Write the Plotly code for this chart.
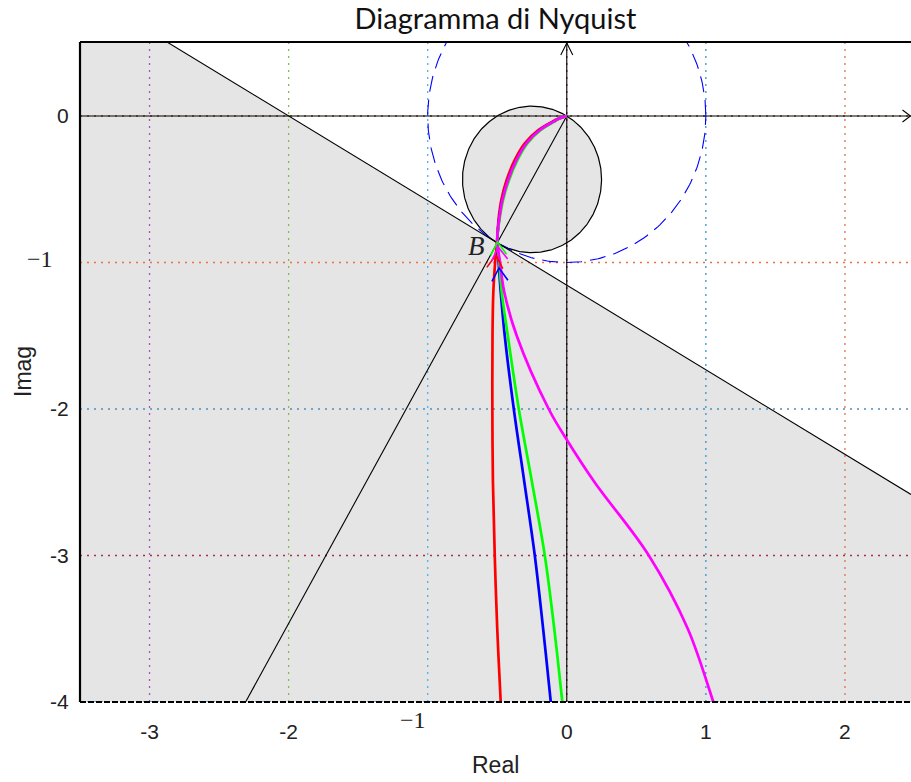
import numpy as np
import plotly.graph_objects as go

# ---------------- data ----------------
W, H = 911, 782
ML, MR, MT, MB = 80, 0, 42, 80
X_RANGE = [-3.5, 2.475]
Y_RANGE = [-4.0, 0.505]

x_ticks = [-3, -2, -1, 0, 1, 2]
x_tick_text = ["-3", "-2", "", "0", "1", "2"]
y_ticks = [0, -1, -2, -3, -4]
y_tick_text = ["0", "", "-2", "-3", "-4"]
x_grid_colors = ["#a455b8", "#86b84e", "#45b4e4", "#8a2b4a", "#3592d0", "#e07048"]
y_grid_colors = ["#8a5a2a", "#ee7040", "#4c8fc0", "#a8304e", "#3a8fd0"]

# crossing point B on the unit circle (phase margin 60 deg)
B = (-0.5, -0.866)

# Nyquist curves (high freq -> origin, low freq -> -j inf)
upper_x = [0.0, -0.05, -0.096, -0.194, -0.29, -0.362, -0.422, -0.463, -0.487, -0.50]
upper_y = [0.0, -0.016, -0.039, -0.096, -0.186, -0.30, -0.437, -0.573, -0.71, -0.846]

red_lower_x = [-0.515, -0.528, -0.534, -0.535, -0.531, -0.518, -0.50, -0.475, -0.469]
red_lower_y = [-1.0, -1.2, -1.5, -2.0, -2.5, -3.0, -3.5, -4.0, -4.1]

blue_lower_x = [-0.49, -0.475, -0.446, -0.381, -0.305, -0.23, -0.17, -0.115, -0.104]
blue_lower_y = [-1.0, -1.2, -1.5, -2.0, -2.5, -3.0, -3.5, -4.0, -4.1]

green_lower_x = [-0.485, -0.468, -0.424, -0.345, -0.25, -0.158, -0.09, -0.032, -0.021]
green_lower_y = [-1.0, -1.2, -1.5, -2.0, -2.5, -3.0, -3.5, -4.0, -4.1]

magenta_lower_x = [-0.48, -0.45, -0.36, -0.13, 0.0, 0.2, 0.59, 0.87, 1.054, 1.09]
magenta_lower_y = [-1.0, -1.2, -1.5, -2.0, -2.21, -2.5, -3.0, -3.5, -4.0, -4.1]

upper_offsets = {"red": -0.012, "blue": 0.0, "green": 0.008, "magenta": 0.0}
arrow_tip_y = {"red": -0.949, "blue": -1.037, "green": -0.86, "magenta": -0.894}
curve_colors = {"red": "#ff0000", "blue": "#0000ff", "green": "#00ff00", "magenta": "#ff00ff"}

# ---------------- geometry helpers ----------------
PW = W - ML - MR
PH = H - MT - MB
sx = PW / (X_RANGE[1] - X_RANGE[0])
sy = PH / (Y_RANGE[1] - Y_RANGE[0])


def chevron(tip, direction_px, length=13, half=8):
    """Open V arrow head: direction_px is unit vector (pixel space, y down)."""
    dx, dy = direction_px
    px, py = -dy, dx
    pts = []
    for s in (1, -1):
        ox = -length * dx + s * half * px
        oy = -length * dy + s * half * py
        pts.append((tip[0] + ox / sx, tip[1] - oy / sy))
    return [pts[0][0], tip[0], pts[1][0]], [pts[0][1], tip[1], pts[1][1]]


fig = go.Figure()

# shaded half-plane below tangent line at B (perpendicular to OB)
slope = -B[0] / B[1]


def tline(x):
    return B[1] + slope * (x - B[0])


x_top = B[0] + (Y_RANGE[1] - B[1]) / slope
y_right = tline(X_RANGE[1])
fig.add_trace(go.Scatter(
    x=[X_RANGE[0], x_top, X_RANGE[1], X_RANGE[1], X_RANGE[0], X_RANGE[0]],
    y=[Y_RANGE[1], Y_RANGE[1], y_right, Y_RANGE[0], Y_RANGE[0], Y_RANGE[1]],
    fill="toself", fillcolor="#e5e5e5", line=dict(width=0), mode="lines",
    hoverinfo="skip"))

# small circle with diameter O-B
t = np.linspace(0, 2 * np.pi, 361)
cx, cy = B[0] / 2, B[1] / 2
r = np.hypot(B[0], B[1]) / 2
fig.add_trace(go.Scatter(x=cx + r * np.cos(t), y=cy + r * np.sin(t), fill="toself",
                         fillcolor="#e5e5e5", line=dict(color="black", width=0),
                         mode="lines", hoverinfo="skip"))

# grid lines
for v, c in zip(x_ticks, x_grid_colors):
    fig.add_trace(go.Scatter(x=[v, v], y=Y_RANGE, mode="lines",
                             line=dict(color=c, width=1.3, dash="2px,5px"), hoverinfo="skip"))
for v, c in zip(y_ticks, y_grid_colors):
    fig.add_trace(go.Scatter(x=X_RANGE, y=[v, v], mode="lines",
                             line=dict(color=c, width=1.3, dash="2px,5px"), hoverinfo="skip"))

# small circle outline
fig.add_trace(go.Scatter(x=cx + r * np.cos(t), y=cy + r * np.sin(t), mode="lines",
                         line=dict(color="black", width=1.2), hoverinfo="skip"))

# unit circle (dashed blue)
fig.add_trace(go.Scatter(x=np.cos(t), y=np.sin(t), mode="lines",
                         line=dict(color="#0000ff", width=1.1, dash="16px,8px"), hoverinfo="skip"))

# tangent line and line through O-B
fig.add_trace(go.Scatter(x=[X_RANGE[0], X_RANGE[1]], y=[tline(X_RANGE[0]), y_right], mode="lines",
                         line=dict(color="black", width=1.1), hoverinfo="skip"))
k = B[1] / B[0]
fig.add_trace(go.Scatter(x=[0, Y_RANGE[0] / k], y=[0, Y_RANGE[0]], mode="lines",
                         line=dict(color="black", width=1.1), hoverinfo="skip"))

# axes with arrows
fig.add_trace(go.Scatter(x=X_RANGE, y=[0, 0], mode="lines",
                         line=dict(color="black", width=1.1), hoverinfo="skip"))
fig.add_trace(go.Scatter(x=[0, 0], y=Y_RANGE, mode="lines",
                         line=dict(color="black", width=1.1), hoverinfo="skip"))
ax, ay = chevron((X_RANGE[1] - 0.5 / sx, 0.0), (1, 0), length=8, half=6)
fig.add_trace(go.Scatter(x=ax, y=ay, mode="lines", line=dict(color="black", width=1.1), hoverinfo="skip"))
ax, ay = chevron((0.0, Y_RANGE[1] - 1.0 / sy), (0, -1), length=12, half=6)
fig.add_trace(go.Scatter(x=ax, y=ay, mode="lines", line=dict(color="black", width=1.1), hoverinfo="skip"))

# Nyquist curves
lowers = {"red": (red_lower_x, red_lower_y), "blue": (blue_lower_x, blue_lower_y),
          "green": (green_lower_x, green_lower_y), "magenta": (magenta_lower_x, magenta_lower_y)}
for name in ["red", "blue", "green", "magenta"]:
    lx, ly = lowers[name]
    off = upper_offsets[name]
    ux = [x + off * np.sin(np.pi * i / (len(upper_x) - 1)) for i, x in enumerate(upper_x)]
    xs = ux + list(lx)
    ys = list(upper_y) + list(ly)
    fig.add_trace(go.Scatter(x=xs, y=ys, mode="lines",
                             line=dict(color=curve_colors[name], width=2.7, shape="spline", smoothing=1.0),
                             hoverinfo="skip"))

for name in ["red", "blue", "green", "magenta"]:
    lx, ly = lowers[name]
    xs = [upper_x[-1]] + list(lx)
    ys = [upper_y[-1]] + list(ly)
    ty = arrow_tip_y[name]
    tx = float(np.interp(-ty, [-v for v in ys], xs))
    bx = float(np.interp(-(ty - 0.1), [-v for v in ys], xs))
    dpx = (tx - bx) * sx
    dpy = -(0.1) * sy
    n = np.hypot(dpx, dpy)
    ax, ay = chevron((tx, ty), (dpx / n, dpy / n), length=13, half=8)
    fig.add_trace(go.Scatter(x=ax, y=ay, mode="lines",
                             line=dict(color=curve_colors[name], width=1.6), hoverinfo="skip"))

# frame (top, left, bottom)
fig.add_shape(type="line", xref="paper", yref="paper", x0=0, x1=1, y0=1, y1=1,
              line=dict(color="black", width=2.2))
fig.add_shape(type="line", xref="paper", yref="paper", x0=0, x1=0, y0=0, y1=1,
              line=dict(color="black", width=2.2))
fig.add_shape(type="line", xref="paper", yref="paper", x0=0, x1=1, y0=0, y1=0,
              line=dict(color="black", width=2.2, dash="6px,2px"))

tick_font = dict(family="Liberation Sans, Arial, sans-serif", size=21, color="#222222")
serif_font = dict(family="Liberation Serif, Times New Roman, serif", size=24, color="#222222")

annotations = [
    dict(text="−1", x=-1, xref="x", y=0, yref="paper", xanchor="right", yanchor="middle",
         yshift=-18, showarrow=False, font=serif_font),
    dict(text="−1", x=0, xref="paper", y=-1, yref="y", xanchor="right", yanchor="middle",
         xshift=-25, yshift=3, showarrow=False, font=serif_font),
    dict(text="<i>B</i>", x=B[0], xref="x", y=B[1], yref="y", xanchor="right", yanchor="middle",
         xshift=-10, yshift=-3, showarrow=False,
         font=dict(family="Liberation Serif, Times New Roman, serif", size=27, color="#222222")),
    dict(text="Real", x=0.5, xref="paper", y=0, yref="paper", xanchor="center", yanchor="middle",
         yshift=-63, showarrow=False, font=dict(family="Liberation Sans, Arial, sans-serif", size=23, color="#222222")),
    dict(text="Imag", x=0, xref="paper", y=0.5, yref="paper", xanchor="center", yanchor="middle",
         xshift=-57, textangle=-90, showarrow=False,
         font=dict(family="Liberation Sans, Arial, sans-serif", size=23, color="#222222")),
]

fig.update_layout(
    width=W, height=H, margin=dict(l=ML, r=MR, t=MT, b=MB),
    paper_bgcolor="white", plot_bgcolor="white", showlegend=False,
    title=dict(text="Diagramma di Nyquist", x=(ML + PW / 2) / W, xanchor="center",
               y=1 - 19 / H, yref="container", yanchor="middle",
               font=dict(family="Lato, Open Sans, sans-serif", size=29, color="#111111")),
    annotations=annotations,
)
fig.update_xaxes(range=X_RANGE, showgrid=False, zeroline=False, tickvals=x_ticks, ticktext=x_tick_text,
                 ticks="outside", ticklen=11, tickcolor="rgba(0,0,0,0)", tickfont=tick_font,
                 showline=False, fixedrange=True)
fig.update_yaxes(range=Y_RANGE, showgrid=False, zeroline=False, tickvals=y_ticks, ticktext=y_tick_text,
                 ticks="outside", ticklen=6, tickcolor="rgba(0,0,0,0)", tickfont=tick_font,
                 showline=False, fixedrange=True)

fig.write_html("out.html")
